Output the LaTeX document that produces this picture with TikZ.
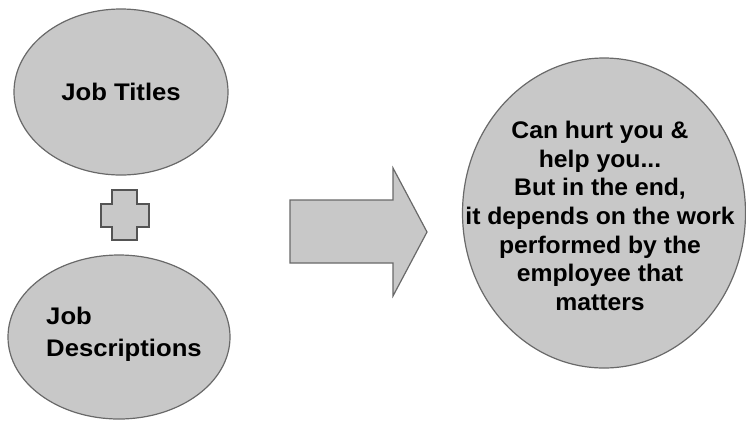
\documentclass[tikz,border=0pt]{standalone}
\usepackage{fontspec}
\setmainfont{Liberation Sans}
\newfontfamily\leftfont[FakeStretch=1.07]{Liberation Sans}
\newfontfamily\rightfont[FakeStretch=1.03]{Liberation Sans}
\usetikzlibrary{shapes.geometric}
\definecolor{shapefill}{RGB}{200,200,200}
\definecolor{shapeedge}{RGB}{105,105,105}
\tikzset{
  blob/.style={ellipse, draw=shapeedge, fill=shapefill, line width=1.2pt, inner sep=0pt},
  flat/.style={draw=shapeedge, fill=shapefill, line width=1.2pt, line join=miter},
  lefttext/.style={font=\leftfont\bfseries\fontsize{24}{32}\selectfont, text=black},
  righttext/.style={font=\rightfont\bfseries\fontsize{24}{28.6}\selectfont, text=black, align=center}
}
\begin{document}
\begin{tikzpicture}[x=1pt,y=-1pt]
\useasboundingbox (0,0) rectangle (746,421);
% top ellipse
\node[blob, minimum width=214pt, minimum height=166pt, lefttext] (titles) at (121,92) {Job Titles};
% plus sign
\draw[flat, line width=2pt, draw=shapeedge!80!black]
  (112,190) -- (137,190) -- (137,204) -- (149,204) -- (149,227) -- (137,227)
  -- (137,240) -- (112,240) -- (112,227) -- (101,227) -- (101,204) -- (112,204) -- cycle;
% bottom ellipse
\node[blob, minimum width=222pt, minimum height=164pt] (desc) at (119,337) {};
\node[lefttext, align=left, inner sep=0pt] (desclabel) at (124,334) {Job\\Descriptions};
% big arrow
\draw[flat]
  (290,200) -- (393,200) -- (393,168) -- (427,232) -- (393,296) -- (393,263) -- (290,263) -- cycle;
% right circle
\node[blob, minimum width=283pt, minimum height=310pt] (result) at (604,213) {};
\node[righttext, inner sep=0pt] (resultlabel) at (600,216)
  {Can hurt you \&\\help you...\\But in the end,\\it depends on the work\\performed by the\\employee that\\matters};
\end{tikzpicture}
\end{document}
